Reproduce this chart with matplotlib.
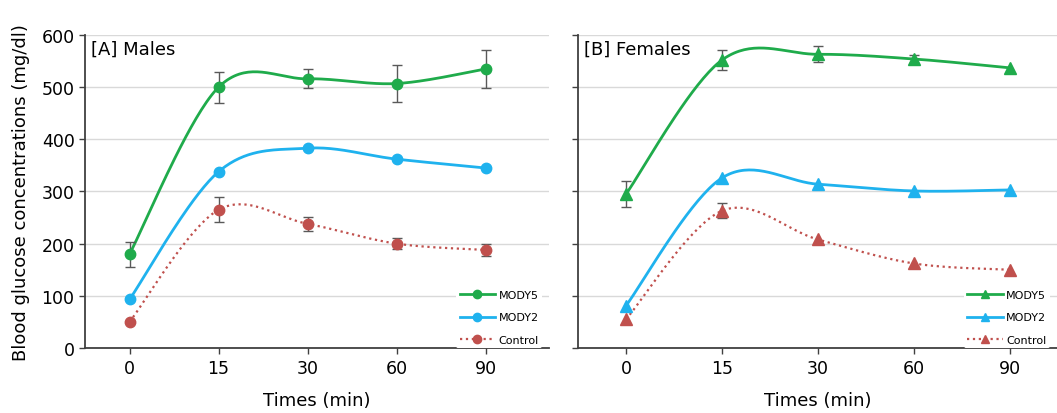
import numpy as np
import matplotlib
matplotlib.use("Agg")
import matplotlib.pyplot as plt
from matplotlib.lines import Line2D

plt.rcParams['font.family'] = ['DejaVu Sans']

times = ["0", "15", "30", "60", "90"]

male_mody5 = [180, 500, 516, 507, 535]
male_mody5_err = [24, 30, 18, 36, 37]
male_mody2 = [93, 338, 383, 362, 345]
male_mody2_err = [0, 0, 0, 0, 0]
male_control = [50, 265, 238, 200, 188]
male_control_err = [0, 24, 14, 10, 11]

female_mody5 = [295, 552, 563, 554, 537]
female_mody5_err = [25, 20, 15, 8, 0]
female_mody2 = [81, 326, 314, 301, 303]
female_mody2_err = [0, 0, 0, 0, 0]
female_control = [55, 263, 208, 162, 150]
female_control_err = [0, 14, 0, 0, 0]

C_GREEN = "#1fab4b"
C_BLUE = "#1fb2ee"
C_RED = "#c0504d"


def smooth(y, n=40):
    """Bezier smoothing (Catmull-Rom style) through points at category indices."""
    x = np.arange(len(y), dtype=float)
    P = np.column_stack([x, np.asarray(y, dtype=float)])
    xs, ys = [], []
    for i in range(len(P) - 1):
        p0 = P[i - 1] if i > 0 else P[i]
        p1 = P[i]
        p2 = P[i + 1]
        p3 = P[i + 2] if i + 2 < len(P) else P[i + 1]
        c1 = p1 + (p2 - p0) / 6.0
        c2 = p2 - (p3 - p1) / 6.0
        t = np.linspace(0, 1, n)[:, None]
        b = ((1 - t) ** 3) * p1 + 3 * ((1 - t) ** 2) * t * c1 + 3 * (1 - t) * t ** 2 * c2 + t ** 3 * p2
        xs.append(b[:, 0]); ys.append(b[:, 1])
    return np.concatenate(xs), np.concatenate(ys)


fig = plt.figure(figsize=(10.57, 4.14), dpi=100)
ax1 = fig.add_axes([85 / 1057, 65 / 414, 464 / 1057, 313 / 414])
ax2 = fig.add_axes([578 / 1057, 65 / 414, 479 / 1057, 313 / 414])


def draw(ax, series, marker, title, xlim, show_ylabels, legend_anchor):
    ax.set_xlim(*xlim)
    ax.set_ylim(0, 600)
    ax.set_yticks(range(0, 601, 100))
    ax.grid(axis='y', color='#d9d9d9', linewidth=1)
    ax.set_axisbelow(True)
    handles = []
    for vals, errs, color, ls, label in series:
        x = np.arange(len(vals))
        sx, sy = smooth(vals)
        ax.plot(sx, sy, color=color, linestyle=ls, linewidth=2 if ls == '-' else 1.6, zorder=3)
        e = np.asarray(errs, dtype=float)
        mask = e > 0
        if mask.any():
            ax.errorbar(x[mask], np.asarray(vals)[mask], yerr=e[mask], fmt='none',
                        ecolor='#595959', elinewidth=1, capsize=3.5, capthick=1, zorder=4)
        ax.plot(x, vals, linestyle='none', marker=marker, markersize=7.5 if marker == 'o' else 8.5,
                color=color, zorder=5)
        handles.append(Line2D([0], [0], color=color, linestyle=ls, linewidth=2 if ls == '-' else 1.6,
                              marker=marker, markersize=6, label=label))
    ax.set_xticks(range(len(times)))
    ax.set_xticklabels(times)
    for s in ['top', 'right']:
        ax.spines[s].set_visible(False)
    for s in ['left', 'bottom']:
        ax.spines[s].set_color('#404040')
        ax.spines[s].set_linewidth(1.3)
    ax.tick_params(axis='both', labelsize=12.5, color='#404040', length=4, width=1)
    ax.tick_params(axis='x', pad=4)
    if not show_ylabels:
        ax.set_yticklabels([])
    ax.set_xlabel("Times (min)", fontsize=13, labelpad=10)
    ax.text(0.012, 0.985, title, transform=ax.transAxes, fontsize=13, va='top', ha='left')
    leg = ax.legend(handles=handles, loc='lower right', bbox_to_anchor=legend_anchor,
                    fontsize=8, frameon=True, framealpha=1, edgecolor='none', facecolor='white',
                    handlelength=3.2, handletextpad=0.3, labelspacing=1.1, borderpad=0.3,
                    borderaxespad=0)
    leg.set_zorder(6)


draw(ax1,
     [(male_mody5, male_mody5_err, C_GREEN, '-', 'MODY5'),
      (male_mody2, male_mody2_err, C_BLUE, '-', 'MODY2'),
      (male_control, male_control_err, C_RED, ':', 'Control')],
     'o', '[A] Males', (-0.5, 4.71), True, (0.985, 0.0))
ax1.set_ylabel("Blood glucose concentrations (mg/dl)", fontsize=13, labelpad=8)

draw(ax2,
     [(female_mody5, female_mody5_err, C_GREEN, '-', 'MODY5'),
      (female_mody2, female_mody2_err, C_BLUE, '-', 'MODY2'),
      (female_control, female_control_err, C_RED, ':', 'Control')],
     '^', '[B] Females', (-0.5, 4.49), False, (0.985, 0.0))

fig.savefig("out.png", dpi=100)
